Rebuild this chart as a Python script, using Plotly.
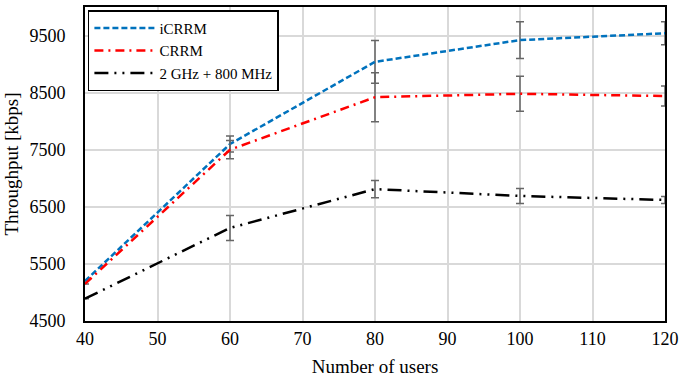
import plotly.graph_objects as go

users = [40, 60, 80, 100, 120]
icrrm = [5200, 7600, 9040, 9420, 9540]
icrrm_err = [0, 140, 375, 320, 200]
crrm = [5150, 7500, 8420, 8480, 8440]
crrm_err = [0, 160, 430, 305, 175]
ghz = [4890, 6130, 6810, 6690, 6620]
ghz_err = [0, 220, 150, 130, 60]

names = ["iCRRM", "CRRM", "2 GHz + 800 MHz"]
colors = ["#0072BD", "#FF0000", "#000000"]
dashes = ["6px,3px", "9px,5px,2px,5px", "14px,6px,2px,6px,2px,6px"]

fig = go.Figure()
for name, ys, errs, c, d in zip(names, [icrrm, crrm, ghz], [icrrm_err, crrm_err, ghz_err], colors, dashes):
    fig.add_trace(go.Scatter(
        x=users, y=ys, name=name, mode="lines",
        line=dict(color=c, width=2.5, dash=d),
        error_y=dict(type="data", array=errs, visible=True, color="#666666", thickness=1.5, width=4),
    ))

ff = "Liberation Serif"
fig.update_layout(
    width=684, height=381,
    margin=dict(l=85, r=16, t=5, b=60),
    paper_bgcolor="white", plot_bgcolor="white",
    font=dict(family=ff, size=17, color="black"),
    showlegend=True,
    legend=dict(x=0.005, y=0.99, xanchor="left", yanchor="top",
                bgcolor="white", bordercolor="black", borderwidth=1.5,
                font=dict(family=ff, size=15, color="black"), tracegroupgap=0,
                itemwidth=60, entrywidthmode="pixels"),
    xaxis=dict(range=[40, 120], dtick=10, tick0=40, showgrid=True, gridcolor="#d9d9d9", gridwidth=1.5,
               showline=True, linecolor="black", linewidth=2, mirror=True, ticks="",
               zeroline=False, tickformat="d",
               title=dict(text="Number of users", font=dict(family=ff, size=19, color="black"), standoff=12),
               tickfont=dict(family=ff, size=18, color="black")),
    yaxis=dict(range=[4500, 10000], dtick=1000, tick0=4500, showgrid=True, gridcolor="#d9d9d9", gridwidth=1.5,
               showline=True, linecolor="black", linewidth=2, mirror=True, ticks="",
               zeroline=False, tickformat="d", ticklabelstandoff=14,
               title=dict(text="Throughput [kbps]", font=dict(family=ff, size=19, color="black"), standoff=6),
               tickfont=dict(family=ff, size=18, color="black")),
)

fig.write_html("out.html")
